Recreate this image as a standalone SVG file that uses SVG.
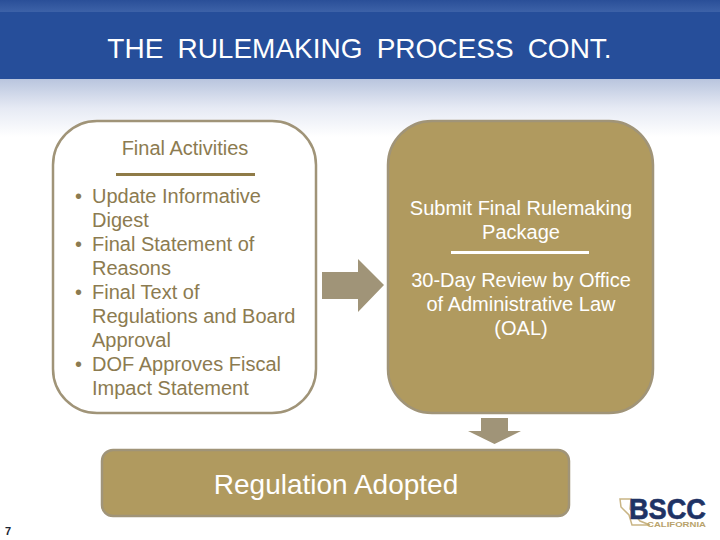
<svg xmlns="http://www.w3.org/2000/svg" width="720" height="540" viewBox="0 0 720 540">
<style>
text{font-family:"Liberation Sans",Arial,sans-serif}
.l{font-size:20px;fill:#8c7b50}
.r{font-size:20px;fill:#fff;text-anchor:middle}
.c{font-size:20px;fill:#8c7b50;text-anchor:middle}
.tan{fill:#b09a5f;stroke:#a09478;stroke-width:2.500}
.arrow{fill:#a09478}
</style>
<defs>
<linearGradient id="g" x1="0" y1="0" x2="0" y2="1"><stop offset="0" stop-color="#b9c5de"/><stop offset=".5" stop-color="#e6eaf4"/><stop offset="1" stop-color="#fff"/></linearGradient>
<linearGradient id="t" x1="0" y1="0" x2="0" y2="1"><stop offset="0" stop-color="#2a4f98"/><stop offset="1" stop-color="#3d62a8"/></linearGradient>
</defs>
<rect width="720" height="540" fill="#fff"/>
<g id="header">
<rect width="720" height="12" fill="url(#t)"/>
<rect y="12" width="720" height="67" fill="#264e9a"/>
<rect y="79" width="720" height="58" fill="url(#g)"/>
<text x="359.500" y="57.500" font-size="28" fill="#fff" text-anchor="middle" word-spacing="6.300">THE RULEMAKING PROCESS CONT.</text>
</g>
<g id="connectors">
<path class="arrow" d="M322 272H358V259L384 285L358 312V299H322Z"/>
<path class="arrow" d="M481 418H508V431H521L494.500 444L468 431H481Z"/>
</g>
<g id="final-activities">
<rect x="53" y="121" width="263" height="292" rx="44" fill="#fff" stroke="#a09478" stroke-width="2.500"/>
<text class="c" x="185" y="155">Final Activities</text>
<rect x="116" y="173" width="139" height="3" fill="#8f7b47"/>
<g class="l">
<text x="75" y="203">•</text><text x="92" y="203">Update Informative</text>
<text x="92" y="227">Digest</text>
<text x="75" y="251">•</text><text x="92" y="251">Final Statement of</text>
<text x="92" y="275">Reasons</text>
<text x="75" y="299">•</text><text x="92" y="299">Final Text of</text>
<text x="92" y="323">Regulations and Board</text>
<text x="92" y="347">Approval</text>
<text x="75" y="371">•</text><text x="92" y="371">DOF Approves Fiscal</text>
<text x="92" y="395">Impact Statement</text>
</g>
</g>
<g id="review">
<rect class="tan" x="388" y="121" width="265" height="292" rx="44"/>
<text class="r" x="521" y="215">Submit Final Rulemaking</text>
<text class="r" x="521" y="239">Package</text>
<rect x="451" y="251" width="138" height="3" fill="#fff"/>
<text class="r" x="521" y="287">30-Day Review by Office</text>
<text class="r" x="521" y="311">of Administrative Law</text>
<text class="r" x="521" y="335">(OAL)</text>
</g>
<g id="adopted">
<rect class="tan" x="102" y="450" width="467" height="66" rx="11"/>
<text x="336" y="494" font-size="28" fill="#fff" text-anchor="middle">Regulation Adopted</text>
</g>
<g id="logo">
<path d="M620 499H631L630 509L640 521L650 525H632L629 515L621 507Z" fill="none" stroke="#c9b585" stroke-width="1.500"/>
<text x="629" y="518.500" font-size="29" font-weight="700" fill="#1f3365" stroke="#1f3365" stroke-width=".6" textLength="77" lengthAdjust="spacingAndGlyphs">BSCC</text>
<text x="647" y="526.500" font-size="8" font-weight="700" fill="#b9a36b" textLength="59" lengthAdjust="spacingAndGlyphs">CALIFORNIA</text>
</g>
<text x="5" y="535" font-size="11" font-weight="700" fill="#1a2433">7</text>
</svg>
